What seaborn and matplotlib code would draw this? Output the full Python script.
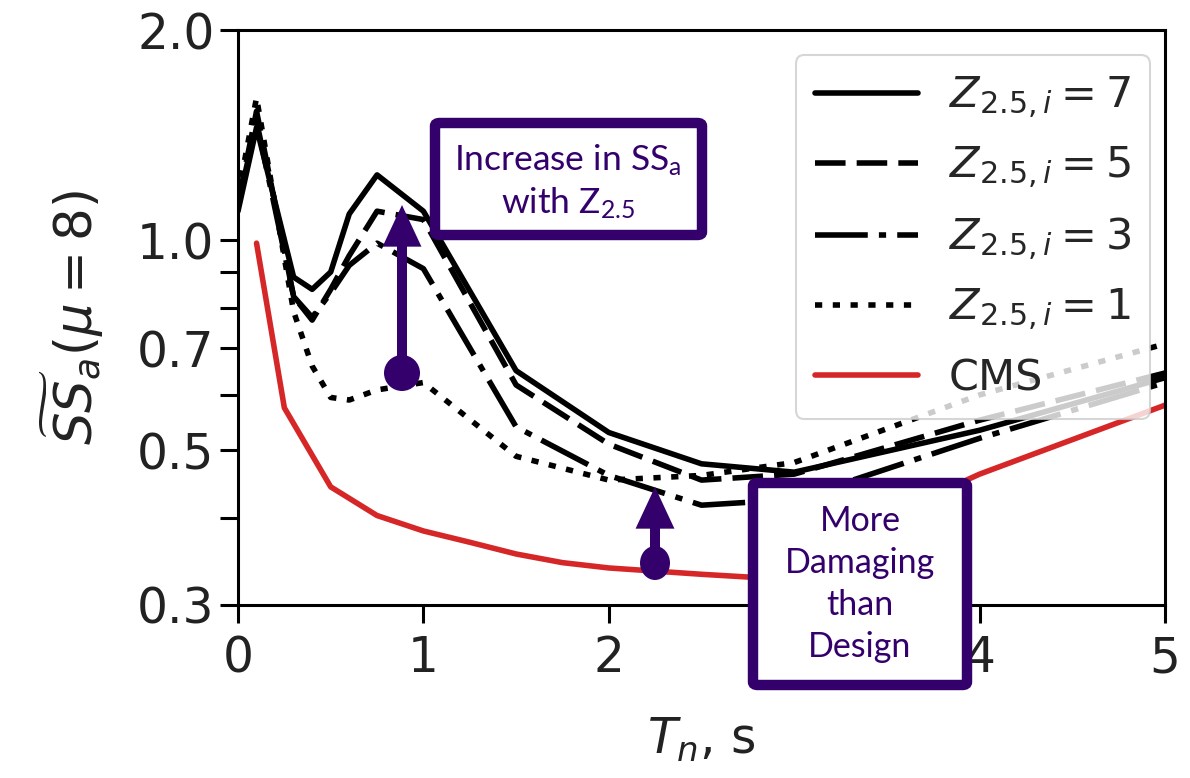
import numpy as np
import pandas as pd
import matplotlib
matplotlib.use("Agg")
import matplotlib.pyplot as plt
import seaborn as sns
from matplotlib.patches import FancyBboxPatch, FancyArrowPatch, Ellipse
from matplotlib.ticker import FixedLocator, FixedFormatter, NullLocator

# ---------------- data ----------------
T_Z = [0.0, 0.1, 0.3, 0.4, 0.5, 0.6, 0.75, 1.0, 1.5, 2.0, 2.5, 3.0, 4.0, 5.0]
Z7 = [1.10, 1.45, 0.885, 0.85, 0.90, 1.09, 1.24, 1.10, 0.65, 0.53, 0.478, 0.465, 0.534, 0.635]
Z5 = [1.13, 1.53, 0.83, 0.768, 0.85, 0.95, 1.10, 1.07, 0.62, 0.51, 0.453, 0.462, 0.552, 0.645]
Z3 = [1.12, 1.48, 0.83, 0.775, 0.84, 0.92, 0.99, 0.91, 0.54, 0.46, 0.417, 0.425, 0.52, 0.625]
Z1 = [1.16, 1.60, 0.79, 0.66, 0.595, 0.59, 0.61, 0.625, 0.49, 0.453, 0.46, 0.48, 0.60, 0.71]

T_CMS = [0.1, 0.25, 0.5, 0.75, 1.0, 1.25, 1.5, 1.75, 2.0, 2.5, 2.75, 3.0, 4.0, 5.0]
CMS = [0.99, 0.575, 0.443, 0.403, 0.383, 0.369, 0.355, 0.345, 0.339, 0.332, 0.329, 0.35, 0.462, 0.58]

labels = [r"$Z_{2.5,i} = 7$", r"$Z_{2.5,i} = 5$", r"$Z_{2.5,i} = 3$", r"$Z_{2.5,i} = 1$", "CMS"]
yticks = [0.3, 0.4, 0.5, 0.6, 0.7, 0.8, 0.9, 1.0, 2.0]
yticklabels = ["0.3", "", "0.5", "", "0.7", "", "", "1.0", "2.0"]
xticks = [0, 1, 2, 3, 4, 5]

# ---------------- style ----------------
sns.set_style("ticks")
plt.rcParams["font.family"] = "DejaVu Sans"
plt.rcParams["font.sans-serif"] = ["DejaVu Sans"]
plt.rcParams["mathtext.fontset"] = "dejavusans"
plt.rcParams["mathtext.rm"] = "Lato"
plt.rcParams["mathtext.it"] = "Lato:italic"
plt.rcParams["mathtext.bf"] = "Lato:bold"

W, H = 1190, 778
fig = plt.figure(figsize=(W / 100, H / 100), dpi=100)
fig.patch.set_facecolor("white")
ax = fig.add_axes([238 / W, 1 - 605 / H, (1165 - 238) / W, (605 - 30) / H])

LW = 4.0
styles = [
    dict(color="black", linestyle="-"),
    dict(color="black", linestyle=(0, (5.5, 2.0))),
    dict(color="black", linestyle=(0, (9.5, 2.0, 1.3, 2.0))),
    dict(color="black", linestyle=(0, (1.3, 1.9))),
]
for vals, lab, st in zip([Z7, Z5, Z3, Z1], labels[:4], styles):
    df = pd.DataFrame({"T": T_Z, "v": vals})
    sns.lineplot(data=df, x="T", y="v", ax=ax, lw=LW, label=lab, **st)
df_c = pd.DataFrame({"T": T_CMS, "v": CMS})
sns.lineplot(data=df_c, x="T", y="v", ax=ax, lw=LW, color="#d62728", label=labels[4])

ax.set_yscale("log")
ax.set_xlim(0, 5)
ax.set_ylim(0.3, 2.0)
ax.yaxis.set_major_locator(FixedLocator(yticks))
ax.yaxis.set_major_formatter(FixedFormatter(yticklabels))
ax.yaxis.set_minor_locator(NullLocator())
ax.set_xticks(xticks)
ax.set_xticklabels([str(t) for t in xticks])

for s in ax.spines.values():
    s.set_linewidth(2.2)
    s.set_color("black")
    s.set_visible(True)
ax.tick_params(axis="both", which="major", length=13, width=2.2, labelsize=35,
               color="black", labelcolor="#222222")
ax.tick_params(axis="x", pad=8)
ax.tick_params(axis="y", pad=4)
for lbl in ax.get_xticklabels() + ax.get_yticklabels():
    lbl.set_fontfamily("DejaVu Sans")

ax.set_xlabel(r"$T_n$, s", fontsize=35, labelpad=24, color="#222222", fontfamily="DejaVu Sans")
ax.set_ylabel(r"$\widetilde{SS}_a(\mu = 8)$", fontsize=37, labelpad=22, color="#222222",
              fontfamily="DejaVu Sans")

leg = ax.legend(loc="upper right", bbox_to_anchor=((1150 - 238) / 927, (605 - 55) / 575),
                borderaxespad=0, fontsize=31, handlelength=2.4, framealpha=0.8,
                fancybox=True, labelspacing=0.56, handletextpad=0.7, borderpad=0.45,
                prop={"family": "DejaVu Sans", "size": 31})
leg.get_frame().set_linewidth(1.5)

# ---------------- annotations ----------------
PURPLE = "#34006C"


def fx(x):
    return x / W


def fy(y):
    return 1 - y / H


def box(x0, y0, x1, y1):
    p = FancyBboxPatch((fx(x0), fy(y1)), fx(x1) - fx(x0), fy(y0) - fy(y1),
                       boxstyle="round,pad=0,rounding_size=0.004",
                       transform=fig.transFigure, fc="white", ec=PURPLE, lw=7.5,
                       zorder=5)
    fig.add_artist(p)


def arrow(xp, y_base, y_tip, r_w, r_h):
    a = FancyArrowPatch((fx(xp), fy(y_base)), (fx(xp), fy(y_tip)),
                        transform=fig.transFigure,
                        arrowstyle="simple,head_length=1.5,head_width=1.4,tail_width=0.36",
                        mutation_scale=20, color=PURPLE, lw=0, zorder=6,
                        shrinkA=0, shrinkB=0)
    fig.add_artist(a)
    e = Ellipse((fx(xp), fy(y_base)), 2 * r_w / W, 2 * r_h / H, transform=fig.transFigure,
                fc=PURPLE, ec="none", zorder=7)
    fig.add_artist(e)


box(435, 123, 702, 235)
fig.text(fx(568), fy(160), r"Increase in SS$_\mathrm{a}$", ha="center", va="center",
         fontsize=25.5, color=PURPLE, family="Lato", math_fontfamily="custom", zorder=8)
fig.text(fx(568), fy(203), r"with Z$_\mathrm{2.5}$", ha="center", va="center",
         fontsize=25.5, color=PURPLE, family="Lato", math_fontfamily="custom", zorder=8)

box(753, 483, 967, 685)
fig.text(fx(860), fy(584), "More\nDamaging\nthan\nDesign", ha="center", va="center",
         fontsize=24.5, color=PURPLE, family="Lato", linespacing=1.38, zorder=8)

arrow(402, 373, 205, 18, 18)
arrow(655, 563, 487, 15, 17)

fig.savefig("out.png", dpi=100, facecolor="white")
